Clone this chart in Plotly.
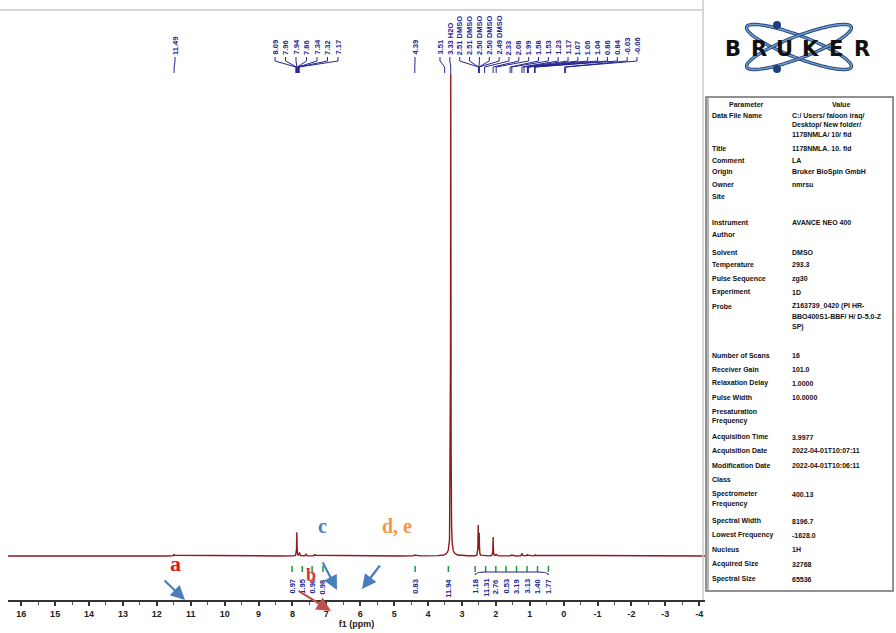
import numpy as np
import plotly.graph_objects as go

W, H = 896, 633

# ---------------- spectrum data ----------------
# peak table: chemical shift (ppm), intensity (rel.), half width at half height (ppm)
peak_ppm = [11.49, 7.87, 7.79, 7.60, 7.34, 4.39, 3.33, 3.33, 2.52, 2.49, 2.08, 1.99, 1.53, 1.23, 1.07, 0.84]
peak_int = [0.004, 0.054, 0.008, 0.005, 0.004, 0.003, 1.092, 0.010, 0.068, 0.050, 0.043, 0.004, 0.003, 0.006, 0.004, 0.003]
peak_hw = [0.01, 0.006, 0.01, 0.01, 0.01, 0.01, 0.006, 0.08, 0.006, 0.006, 0.006, 0.01, 0.01, 0.01, 0.01, 0.01]

# x-axis ticks
tick_vals = list(range(16, -5, -1))
tick_text = ["16", "15", "14", "13", "12", "11", "10", "9", "8", "7", "6", "5", "4", "3", "2", "1", "0",
             "-1", "-2", "-3", "-4"]

# peak picking labels: (label texts, shifts they point at)
pick_group1_text = ["11.49"]
pick_group1_ppm = [11.49]
pick_group2_text = ["8.09", "7.96", "7.94", "7.86", "7.34", "7.32", "7.17"]
pick_group2_ppm = [7.90, 7.88, 7.87, 7.86, 7.84, 7.82, 7.80]
pick_group3_text = ["4.39"]
pick_group3_ppm = [4.39]
pick_group4_text = ["3.51", "3.33 H2O", "2.51 DMSO", "2.51 DMSO", "2.50 DMSO", "2.50 DMSO", "2.49 DMSO",
                    "2.33", "2.08", "1.99", "1.58", "1.53", "1.23", "1.17", "1.07", "1.06", "1.04",
                    "0.86", "0.84", "-0.03", "-0.06"]
pick_group4_ppm = [3.51, 3.33, 2.51, 2.51, 2.50, 2.50, 2.49, 2.33, 2.08, 1.99, 1.58, 1.53, 1.23, 1.17,
                   1.07, 1.06, 1.04, 0.86, 0.84, -0.03, -0.06]

# integrals: label position (ppm) and integral value
integral_ppm = [8.01, 7.71, 7.42, 7.10, 4.38, 3.40, 2.61, 2.30, 2.00, 1.70, 1.39, 1.08, 0.77, 0.45]
integral_val = ["0.97", "1.95", "0.98", "0.98", "0.83", "11.94", "1.18", "11.31", "2.76", "0.53",
                "3.19", "3.13", "1.40", "1.77"]

# acquisition parameters
param_names = ["Data File Name", "", "", "Title", "Comment", "Origin", "Owner", "Site",
               "Instrument", "Author", "Solvent", "Temperature", "Pulse Sequence", "Experiment",
               "Probe", "", "", "Number of Scans", "Receiver Gain", "Relaxation Delay", "Pulse Width",
               "Presaturation", "Frequency", "Acquisition Time", "Acquisition Date", "Modification Date",
               "Class", "Spectrometer", "Frequency", "Spectral Width", "Lowest Frequency", "Nucleus",
               "Acquired Size", "Spectral Size"]
param_values = ["C:/ Users/ faloon iraq/", "Desktop/ New folder/", "1178NMLA/ 10/ fid", "1178NMLA. 10. fid",
                "LA", "Bruker BioSpin GmbH", "nmrsu", "", "AVANCE NEO 400", "", "DMSO", "293.3", "zg30",
                "1D", "Z163739_0420 (PI HR-", "BBO400S1-BBF/ H/ D-5.0-Z", "SP)", "16", "101.0", "1.0000",
                "10.0000", "", "", "3.9977", "2022-04-01T10:07:11", "2022-04-01T10:06:11", "", "400.13", "",
                "8196.7", "-1628.0", "1H", "32768", "65536"]
row_y = [116, 125, 134, 148, 160, 172, 184, 196, 222, 234, 252, 265, 279, 292, 306, 316, 327, 355, 369,
         383, 397, 411, 421, 437, 451, 465, 479, 494, 504, 521, 535, 549, 564, 579]

# ---------------- layout geometry (pixels) ----------------
PX_L, PX_R, PY_T, PY_B = 8, 705, 10, 600
X_LEFT, X_RIGHT = 16.39, -4.17
Y_MIN, Y_MAX = -0.1, 1.24


def px2ppm(px):
    return X_LEFT + (px - PX_L) / (PX_R - PX_L) * (X_RIGHT - X_LEFT)


def fx(px):
    return px / W


def fy(py):
    return 1 - py / H


def note(px, py, text, font, xanchor="center", yanchor="middle", **kw):
    """Text placed at a pixel position of the page."""
    return dict(x=fx(px), y=fy(py), xref="paper", yref="paper", text=text, showarrow=False,
                xanchor=xanchor, yanchor=yanchor, font=font, **kw)


LABEL_COLOR = "#25258f"
SPEC_COLOR = "#8e1b1b"
LABEL_FONT = dict(size=7.5, color=LABEL_COLOR, family="Liberation Sans")

# spectrum trace: sum of Lorentzian lines from the peak table
x = np.linspace(X_RIGHT, X_LEFT, 24000)
y = np.zeros_like(x)
for p, a, w in zip(peak_ppm, peak_int, peak_hw):
    y += a * w ** 2 / ((x - p) ** 2 + w ** 2)

fig = go.Figure()
fig.add_trace(go.Scatter(x=x, y=y, mode="lines", line=dict(color=SPEC_COLOR, width=1.4),
                         hoverinfo="skip", showlegend=False))

shapes = []
annotations = []


def pick_group(texts, ppms, first_px, step_px):
    for i, (t, p) in enumerate(zip(texts, ppms)):
        lx = px2ppm(first_px + i * step_px)
        annotations.append(dict(x=lx, xref="x", y=fy(57), yref="paper", text=f"<b>{t}</b>", textangle=-90,
                                showarrow=False, xanchor="center", yanchor="bottom", font=LABEL_FONT))
        path = (f"M {lx},{fy(57)} L {lx},{fy(61)} L {p},{fy(67)} L {p},{fy(73)}")
        shapes.append(dict(type="path", path=path, xref="x", yref="paper",
                           line=dict(color=LABEL_COLOR, width=1)))


pick_group(pick_group1_text, pick_group1_ppm, 175, 10)
pick_group(pick_group2_text, pick_group2_ppm, 275, 10.5)
pick_group(pick_group3_text, pick_group3_ppm, 415, 10)
pick_group(pick_group4_text, pick_group4_ppm, 440, 9.85)

# integral labels with their small integral marks
for p, v in zip(integral_ppm, integral_val):
    annotations.append(dict(x=p, xref="x", y=fy(577), yref="paper", text=f"<b>{v}</b>", textangle=-90,
                            showarrow=False, xanchor="center", yanchor="top", font=LABEL_FONT))
    shapes.append(dict(type="line", xref="x", yref="paper", x0=p, x1=p, y0=fy(566), y1=fy(572),
                       line=dict(color="#1f9a3a", width=1.5)))
shapes.append(dict(type="path", xref="x", yref="paper",
                   path=f"M {integral_ppm[6]},{fy(575)} Q {integral_ppm[6]},{fy(572)} {integral_ppm[7]},{fy(572)} "
                        f"L {integral_ppm[12]},{fy(572)} Q {integral_ppm[13]},{fy(572)} {integral_ppm[13]},{fy(575)}",
                   line=dict(color=LABEL_COLOR, width=1.2)))

# frame of spectrum pane
shapes.append(dict(type="line", xref="paper", yref="paper", x0=fx(0), x1=fx(703), y0=fy(10), y1=fy(10),
                   line=dict(color="#c8c8c8", width=1.5)))
shapes.append(dict(type="line", xref="paper", yref="paper", x0=fx(703), x1=fx(703), y0=fy(0), y1=fy(600),
                   line=dict(color="#c8c8c8", width=1.5)))

# ---------------- letter annotations & arrows ----------------
annotations.append(note(175, 563, "<b>a</b>", dict(size=22, color="#e8141b", family="Liberation Serif")))
annotations.append(note(311, 575, "<b>b</b>", dict(size=18, color="#d2353a", family="Liberation Serif")))
annotations.append(note(322, 526, "<b>c</b>", dict(size=20, color="#4f81bd", family="Liberation Serif")))
annotations.append(note(397, 526, "<b>d, e</b>", dict(size=20, color="#f79646", family="Liberation Serif")))


def arrow(tail, head, color):
    annotations.append(dict(x=fx(head[0]), y=fy(head[1]), xref="paper", yref="paper", text="",
                            showarrow=True, ax=tail[0] - head[0], ay=tail[1] - head[1],
                            arrowhead=2, arrowsize=1.3, arrowwidth=2.2, arrowcolor=color))


arrow((163, 579), (185, 600), "#4a7ebb")
arrow((297, 590), (331, 611), "#c0504d")
arrow((322, 561), (337, 590), "#4a7ebb")
arrow((381, 564), (362, 589), "#4a7ebb")

# ---------------- parameter table ----------------
TX0, TX1, TY0, TY1 = 706, 893, 97, 591
shapes.append(dict(type="rect", xref="paper", yref="paper", x0=fx(TX0), x1=fx(TX1), y0=fy(TY0), y1=fy(TY1),
                   line=dict(color="#6e6e6e", width=1.5), fillcolor="white", layer="below"))
shapes.append(dict(type="line", xref="paper", yref="paper", x0=fx(TX0 + 2), x1=fx(TX0 + 2), y0=fy(TY0),
                   y1=fy(TY1), line=dict(color="#9a9a9a", width=1.5)))
TFONT = dict(size=7, color="#111111", family="Liberation Sans")
annotations.append(note(746, 104, "<b>Parameter</b>", TFONT))
annotations.append(note(841, 104, "<b>Value</b>", TFONT))
for name, val, ry in zip(param_names, param_values, row_y):
    if name:
        annotations.append(note(710, ry, f"<b>{name}</b>", TFONT, xanchor="left"))
    if val:
        annotations.append(note(790, ry, f"<b>{val}</b>", TFONT, xanchor="left"))

# ---------------- logo ----------------
t = np.linspace(0, 2 * np.pi, 120)
for ang in (np.deg2rad(21), np.deg2rad(-21)):
    ex = 799 + 56 * np.cos(t) * np.cos(ang) - 11 * np.sin(t) * np.sin(ang)
    ey = 47 + 56 * np.cos(t) * np.sin(ang) + 11 * np.sin(t) * np.cos(ang)
    path = "M " + " L ".join(f"{fx(a):.5f},{fy(b):.5f}" for a, b in zip(ex, ey)) + " Z"
    shapes.append(dict(type="path", xref="paper", yref="paper", path=path,
                       line=dict(color="#27497e", width=3.4)))
    shapes.append(dict(type="path", xref="paper", yref="paper", path=path,
                       line=dict(color="#6f9fd0", width=1.4)))
for cx, cy in ((777, 25), (777, 69)):
    shapes.append(dict(type="circle", xref="paper", yref="paper", x0=fx(cx - 4), x1=fx(cx + 4),
                       y0=fy(cy - 4), y1=fy(cy + 4), fillcolor="#1f3f7a", line=dict(width=0)))
for i, ch in enumerate("BRUKER"):
    annotations.append(note(733 + i * 25.8, 49, f"<b>{ch}</b>",
                            dict(size=21, color="#111111", family="DejaVu Sans")))

fig.update_layout(
    width=W, height=H, margin=dict(l=0, r=0, t=0, b=0),
    paper_bgcolor="white", plot_bgcolor="white",
    shapes=shapes, annotations=annotations, showlegend=False,
    xaxis=dict(domain=[fx(PX_L), fx(PX_R)], range=[X_LEFT, X_RIGHT], tickvals=tick_vals, ticktext=tick_text,
               ticks="outside", ticklen=4, tickwidth=1.5, tickcolor="#333", showline=True, linecolor="#333",
               linewidth=1.5, showgrid=False, zeroline=False,
               minor=dict(dtick=0.5, ticks="outside", ticklen=3, tickcolor="#555", tickwidth=1),
               tickfont=dict(size=9, color="#222", family="Liberation Sans", weight="bold"),
               title=dict(text="f1 (ppm)", font=dict(size=9, color="#222", family="Liberation Sans",
                                                     weight="bold"), standoff=2)),
    yaxis=dict(domain=[fy(PY_B), fy(PY_T)], range=[Y_MIN, Y_MAX], visible=False),
)

fig.write_html("out.html")
